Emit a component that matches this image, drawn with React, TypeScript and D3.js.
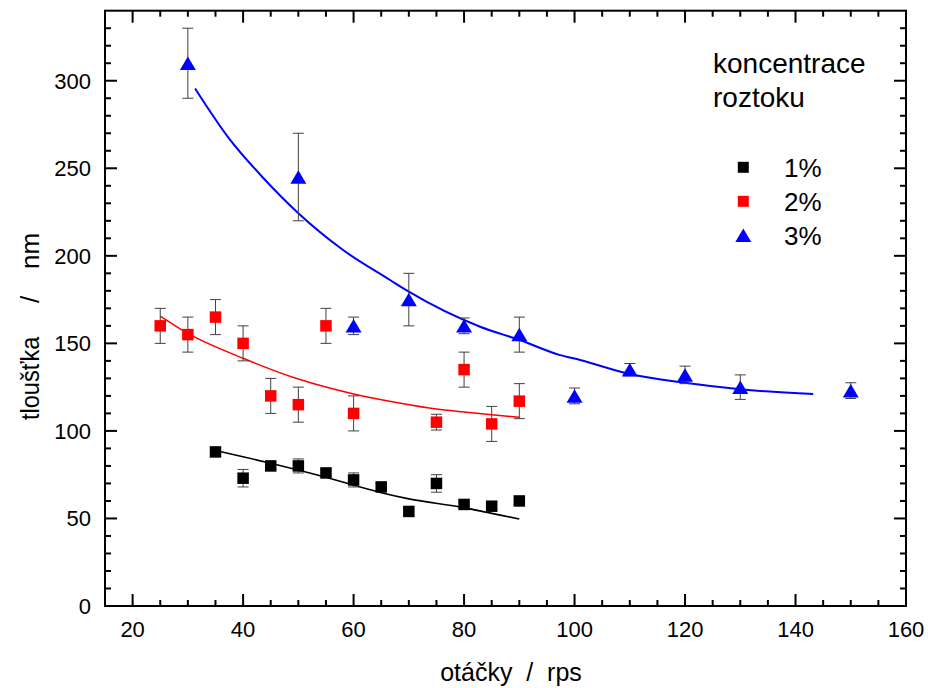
import React from 'react';
import * as d3 from 'd3';

// 1% series
const x1 = [35, 40, 45, 50, 55, 60, 65, 70, 75, 80, 85, 90];
const y1 = [88, 73, 80, 80, 76, 72, 68, 54, 70, 58, 57, 60];
const e1 = [2, 5, 2, 4, 2, 4, 2, 2, 5, 2, 2, 2];
// 2% series
const x2 = [25, 30, 35, 40, 45, 50, 55, 60, 75, 80, 85, 90];
const y2 = [160, 155, 165, 150, 120, 115, 160, 110, 105, 135, 104, 117];
const e2 = [10, 10, 10, 10, 10, 10, 10, 10, 4.5, 10, 10, 10];
// 3% series
const x3 = [30, 50, 60, 70, 80, 90, 100, 110, 120, 130, 150];
const y3 = [310, 245, 160, 175, 160, 155, 120, 135, 132, 125, 123];
const e3 = [20, 25, 5, 15, 4.5, 10, 4.5, 3.5, 5, 7, 4.5];

// fitted curves
const fit1x = [36, 45, 55, 65, 70, 80, 85, 90];
const fit1y = [88.1, 81.5, 73.5, 64.7, 61.2, 56.2, 52.9, 49.7];
const fit2x = [25, 30, 40, 50, 60, 68, 75, 80, 85, 90];
const fit2y = [165.6, 155.7, 141.5, 129.6, 121.1, 116.1, 112.5, 110.8, 109.2, 107.8];
const fit3x = [31.3, 37.3, 43.7, 50, 58.1, 66.6, 70, 82.9, 90.1, 97.4, 101, 110, 120, 130, 143.2];
const fit3y = [295.6, 267.7, 244.3, 224.3, 203.3, 186.2, 179.5, 159.5, 151.9, 143.3, 140.5, 132.5, 127.5, 123.8, 121.1];

const xMajor = [20, 40, 60, 80, 100, 120, 140, 160];
const yMajor = [0, 50, 100, 150, 200, 250, 300];
const legendTitle = ['koncentrace', 'roztoku'];
const legendLabels = ['1%', '2%', '3%'];
const colors = ['#000000', '#ff0000', '#0000ff'];

const FONT = '"Liberation Sans", Arial, Helvetica, sans-serif';

const W = 928;
const H = 688;
const L = 105, R = 906, T = 10.7, B = 606;

const xScale = d3.scaleLinear().domain([15, 160]).range([L, R]);
const yScale = d3.scaleLinear().domain([0, 340]).range([B, T]);

const squarePath = (s: number) => `M${-s / 2},${-s / 2}h${s}v${s}h${-s}Z`;
const trianglePath = (w: number, h: number) => `M0,${-h / 2}L${w / 2},${h / 2}L${-w / 2},${h / 2}Z`;

function Series({ xs, ys, es, color, tri }: { xs: number[]; ys: number[]; es: number[]; color: string; tri: boolean }) {
  const cap = 5.5;
  return (
    <g>
      {xs.map((x, i) => {
        const px = xScale(x);
        const top = yScale(ys[i] + es[i]);
        const bot = yScale(ys[i] - es[i]);
        return (
          <g key={'e' + i} stroke="#404040" strokeWidth={1} fill="none">
            <line x1={px} x2={px} y1={top} y2={bot} />
            <line x1={px - cap} x2={px + cap} y1={top} y2={top} />
            <line x1={px - cap} x2={px + cap} y1={bot} y2={bot} />
          </g>
        );
      })}
      {xs.map((x, i) => (
        <path
          key={'m' + i}
          transform={`translate(${xScale(x)},${yScale(ys[i])})`}
          d={tri ? trianglePath(16, 13.5) : squarePath(11.5)}
          fill={color}
        />
      ))}
    </g>
  );
}

export default function App() {
  const line = d3
    .line<[number, number]>()
    .x((d) => xScale(d[0]))
    .y((d) => yScale(d[1]))
    .curve(d3.curveMonotoneX);
  const fits = [
    { xs: fit1x, ys: fit1y, c: colors[0], w: 1.6 },
    { xs: fit2x, ys: fit2y, c: colors[1], w: 1.5 },
    { xs: fit3x, ys: fit3y, c: colors[2], w: 2 },
  ];

  const xMinor = d3.range(20, 160, 5).filter((v) => v % 20 !== 0);
  const yMinor = d3.range(10, 340, 10).filter((v) => v % 50 !== 0);
  const majLen = 12;
  const minLen = 6;

  return (
    <svg
      width={W}
      height={H}
      style={{ position: 'absolute', left: 0, top: 0, background: '#fff' }}
      fontFamily={FONT}
    >
      <rect x={0} y={0} width={W} height={H} fill="#fff" />
      {/* fit lines */}
      {fits.map((f, k) => (
        <path
          key={'f' + k}
          d={line(f.xs.map((x, i) => [x, f.ys[i]]) as [number, number][]) || ''}
          fill="none"
          stroke={f.c}
          strokeWidth={f.w}
        />
      ))}
      <Series xs={x1} ys={y1} es={e1} color={colors[0]} tri={false} />
      <Series xs={x2} ys={y2} es={e2} color={colors[1]} tri={false} />
      <Series xs={x3} ys={y3} es={e3} color={colors[2]} tri={true} />

      {/* ticks */}
      <g stroke="#000" strokeWidth={2}>
        {xMajor.filter((v) => v < 160).map((v) => (
          <g key={'xM' + v}>
            <line x1={xScale(v)} x2={xScale(v)} y1={B} y2={B - majLen} />
            <line x1={xScale(v)} x2={xScale(v)} y1={T} y2={T + majLen} />
          </g>
        ))}
        {xMinor.map((v) => (
          <g key={'xm' + v}>
            <line x1={xScale(v)} x2={xScale(v)} y1={B} y2={B - minLen} />
            <line x1={xScale(v)} x2={xScale(v)} y1={T} y2={T + minLen} />
          </g>
        ))}
        {yMajor.filter((v) => v > 0).map((v) => (
          <g key={'yM' + v}>
            <line x1={L} x2={L + majLen} y1={yScale(v)} y2={yScale(v)} />
            <line x1={R} x2={R - majLen} y1={yScale(v)} y2={yScale(v)} />
          </g>
        ))}
        {yMinor.map((v) => (
          <g key={'ym' + v}>
            <line x1={L} x2={L + minLen} y1={yScale(v)} y2={yScale(v)} />
            <line x1={R} x2={R - minLen} y1={yScale(v)} y2={yScale(v)} />
          </g>
        ))}
      </g>
      {/* frame */}
      <rect x={L} y={T} width={R - L} height={B - T} fill="none" stroke="#000" strokeWidth={2} />

      {/* tick labels */}
      <g fontSize={22} fill="#000">
        {xMajor.map((v) => (
          <text key={'xl' + v} x={xScale(v)} y={637} textAnchor="middle">
            {v}
          </text>
        ))}
        {yMajor.map((v) => (
          <text key={'yl' + v} x={91} y={yScale(v)} dy="0.36em" textAnchor="end">
            {v}
          </text>
        ))}
      </g>

      {/* axis titles */}
      <text x={511} y={681} textAnchor="middle" fontSize={25} style={{ whiteSpace: 'pre' }}>
        {'otáčky  /  rps'}
      </text>
      <text transform="translate(39,420) rotate(-90)" fontSize={26}>
        <tspan x={0} textLength={90} lengthAdjust="spacingAndGlyphs">tloušťka </tspan>
        <tspan x={117}>/ </tspan>
        <tspan x={151}>nm</tspan>
      </text>

      {/* legend */}
      <g fontSize={28}>
        <text x={713} y={73.3}>{legendTitle[0]}</text>
        <text x={713} y={106.7}>{legendTitle[1]}</text>
      </g>
      <g fontSize={26}>
        {legendLabels.map((lab, i) => (
          <g key={'lg' + i}>
            <path
              transform={`translate(743.3,${167.3 + i * 34})`}
              d={i === 2 ? trianglePath(16, 13.5) : squarePath(11)}
              fill={colors[i]}
            />
            <text x={784} y={176.7 + i * 34.2}>{lab}</text>
          </g>
        ))}
      </g>
    </svg>
  );
}
